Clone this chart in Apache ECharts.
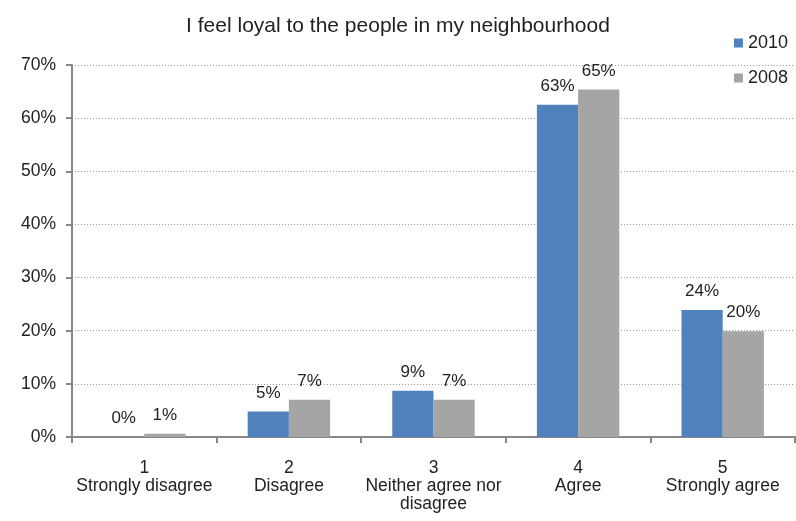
<!DOCTYPE html>
<html><head><meta charset="utf-8">
<script src="https://cdn.jsdelivr.net/npm/echarts@6/dist/echarts.min.js"></script>
<style>html,body{margin:0;padding:0;background:#fff}#c{width:796px;height:521px}</style>
</head><body><div id="c"></div>
<script>
var title = 'I feel loyal to the people in my neighbourhood';
var categories = ['1\nStrongly disagree', '2\nDisagree', '3\nNeither agree nor\ndisagree', '4\nAgree', '5\nStrongly agree'];
var seriesNames = ['2010', '2008'];
var values2010 = [0, 4.8, 8.7, 62.5, 23.9];
var values2008 = [0.6, 7.0, 7.0, 65.4, 19.9];
var yTicks = [0, 10, 20, 30, 40, 50, 60, 70];

var FONT = '"Liberation Sans", Arial, sans-serif';
var colors = ['#4F81BD', '#A5A5A5'];
function mk(name, vals, color) {
  return {
    name: name, type: 'bar', data: vals,
    barGap: '0%', barCategoryGap: '43%',
    itemStyle: { color: color },
    label: { show: true, position: 'top', distance: 10, color: '#222', fontSize: 17, fontFamily: FONT,
      formatter: function (p) { return Math.round(p.value) + '%'; } }
  };
}
var chart = echarts.init(document.getElementById('c'), null, { renderer: 'canvas' });
chart.setOption({
  animation: false,
  title: { text: title, left: 'center', top: 11, textStyle: { fontFamily: FONT, fontWeight: 'normal', fontSize: 21, color: '#222' } },
  legend: { orient: 'vertical', right: 3, top: 29, itemWidth: 9, itemHeight: 9, itemGap: 17, itemStyle: { borderWidth: 0 }, icon: 'rect',
    textStyle: { fontFamily: FONT, fontSize: 18, color: '#222' }, data: seriesNames },
  grid: { left: 72, right: 1, top: 65, bottom: 84, containLabel: false },
  xAxis: { type: 'category', data: categories,
    axisLine: { lineStyle: { color: '#888', width: 2 } },
    axisTick: { show: true, length: 6, lineStyle: { color: '#888', width: 2 } },
    axisLabel: { margin: 22, fontFamily: FONT, fontSize: 17.5, color: '#222', lineHeight: 18, interval: 0 } },
  yAxis: { type: 'value', min: yTicks[0], max: yTicks[yTicks.length - 1], interval: 10,
    axisLine: { show: true, lineStyle: { color: '#888', width: 2 } },
    axisTick: { show: true, length: 6, lineStyle: { color: '#888', width: 2 } },
    axisLabel: { margin: 16, fontFamily: FONT, fontSize: 17.5, color: '#222', formatter: '{value}%' },
    splitLine: { lineStyle: { color: '#999', type: [1, 2], width: 1 } } },
  series: [
    mk(seriesNames[0], values2010, colors[0]),
    mk(seriesNames[1], values2008, colors[1])
  ]
});
</script></body></html>
